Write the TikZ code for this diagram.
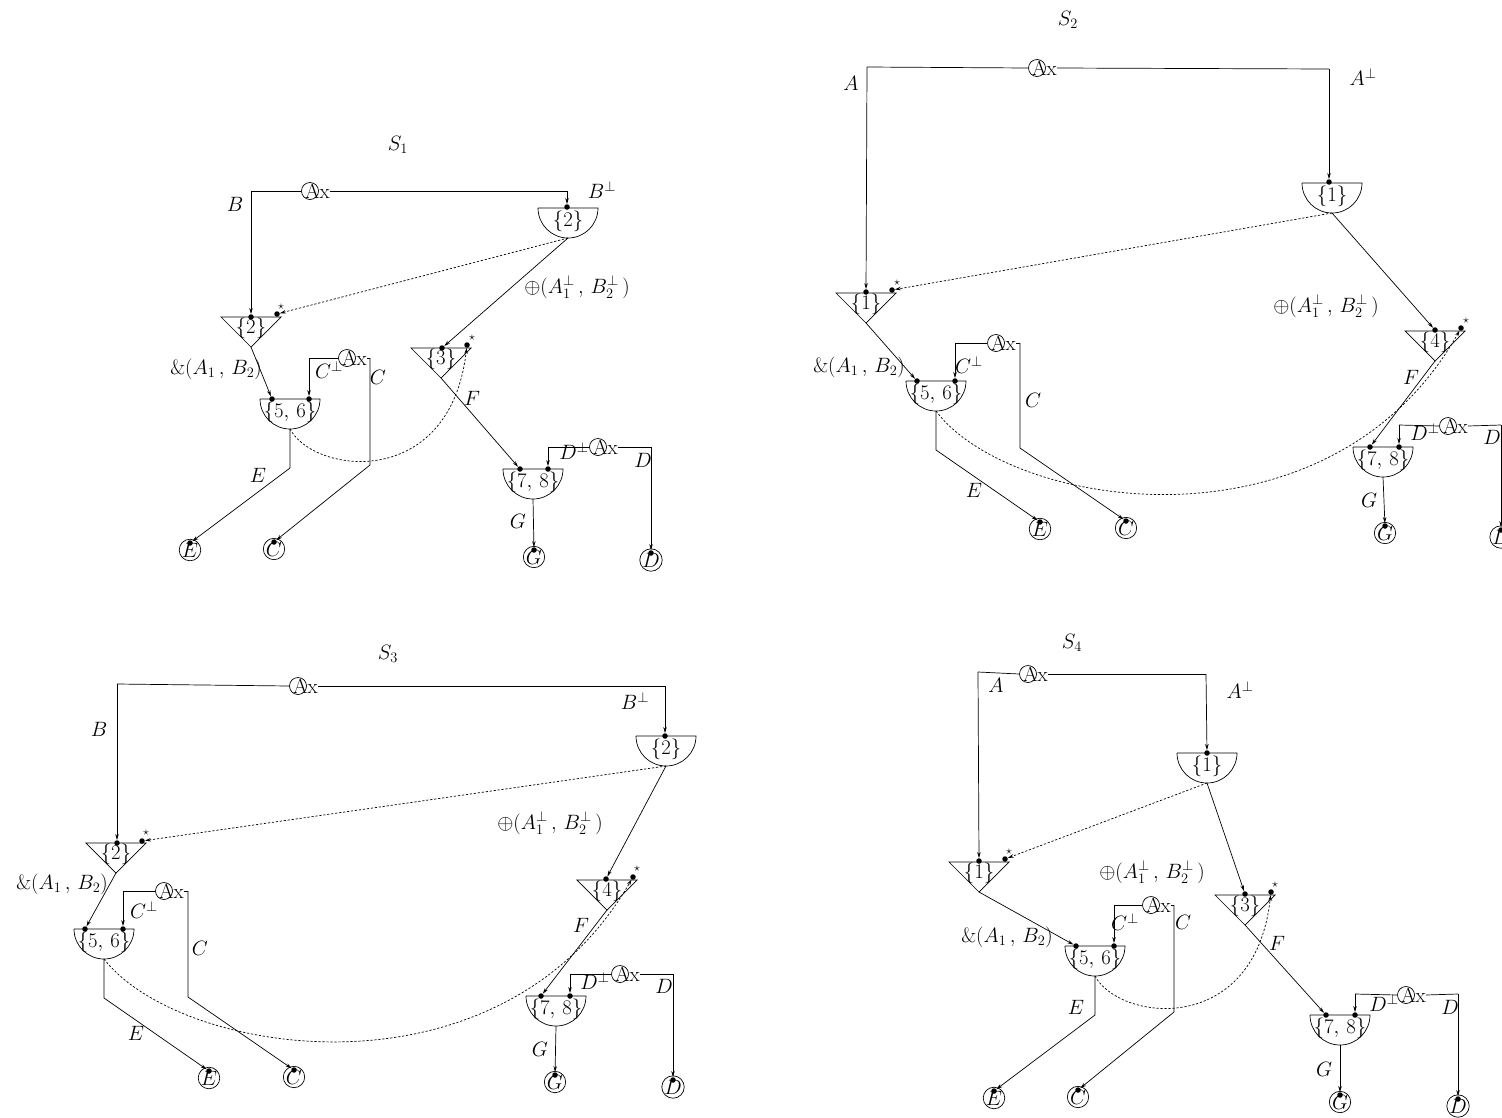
\documentclass[tikz,border=0pt]{standalone}
\usetikzlibrary{arrows.meta}
\tikzset{
  every node/.style={font=\huge},
  ln/.style={line width=0.7pt},
  arr/.style={ln,-{Stealth[length=6pt,width=3.5pt]}},
  dotl/.style={arr,dash pattern=on 2.2pt off 1.8pt},
  dot/.style={circle,fill,inner sep=0pt,minimum size=5.5pt},
  axc/.style={circle,draw,line width=0.7pt,inner sep=0pt,minimum size=17pt},
  axt/.style={inner sep=0pt,anchor=west},
  cnc/.style={circle,draw,line width=0.7pt,inner sep=0pt,minimum size=17pt},
  lbl/.style={inner sep=0pt},
  strs/.style={inner sep=0pt,font=\large},
}
\newcommand\SemiG[4]{%
  \draw[ln] (#2-30,#3) -- (#2+30,#3) arc[start angle=0,end angle=-180,radius=30pt];
  \node[lbl] (#1) at (#2,#3+13) {$\{#4\}$};
  \coordinate (#1b) at (#2,#3+30);
}
\newcommand\TriG[4]{%
  \draw[ln] (#2-30,#3) -- (#2+30,#3) -- (#2,#3+30) -- cycle;
  \node[lbl] (#1) at (#2,#3+11) {$\{#4\}$};
  \coordinate (#1a) at (#2,#3+30);
}
\newcommand\AxG[3]{%
  \node[axc] (#1) at (#2,#3) {};
  \node[axt] (#1t) at (#2-5,#3) {Ax};
}
\newcommand\ConcG[4]{%
  \node[cnc] (#1) at (#2,#3) {$#4$};
  \node[dot] (#1d) at (#2,#3-7) {};
}
\newcommand\PlusL{$\oplus(A_1^{\perp}\,,\,B_2^{\perp}\,)$}
\newcommand\AmpL{$\&(A_1\,,\,B_2)$}
\begin{document}
\begin{tikzpicture}[x=1pt,y=-1pt]
\useasboundingbox (0,0) rectangle (1502,1117);

% ================= S1 =================
\node[lbl] (s1lab) at (398,145) {$S_1$};
\AxG{s1ax}{310}{191}
\coordinate (s1cl) at (251,191);
\coordinate (s1cr) at (567,191);
\draw[ln] (s1ax.west) -- (s1cl);
\draw[ln] (s1axt.east) -- (s1cr);
\node[lbl] (s1B) at (235,204) {$B$};
\node[lbl] (s1Bp) at (602,190) {$B^{\perp}$};
\SemiG{s1s2}{568}{208}{2}
\node[dot] (s1s2d) at (567,207) {};
\draw[arr] (s1cr) -- (s1s2d);
\TriG{s1t2}{251}{317}{2}
\node[dot] (s1t2d) at (251,317) {};
\node[dot] (s1t2s) at (277,314) {};
\node[strs] (s1t2st) at (281,307) {$\star$};
\draw[arr] (s1cl) -- (s1t2d);
\draw[dotl] (s1s2b) -- (s1t2s);
\TriG{s1t3}{441}{348}{3}
\node[dot] (s1t3d) at (442,348) {};
\node[dot] (s1t3s) at (467,345) {};
\node[strs] (s1t3st) at (472,338) {$\star$};
\draw[arr] (s1s2b) -- (s1t3d);
\node[lbl] (s1plus) at (577,287) {\PlusL};
\SemiG{s1s56}{290}{399}{5,\,6}
\node[dot] (s1s56d1) at (272,399) {};
\node[dot] (s1s56d2) at (309,399) {};
\draw[arr] (s1t2a) -- (s1s56d1);
\node[lbl] (s1amp) at (216,369) {\AmpL};
\AxG{s1axc}{347}{358}
\coordinate (s1ccl) at (309,358);
\coordinate (s1ccr) at (370,358);
\draw[ln] (s1axc.west) -- (s1ccl);
\draw[arr] (s1ccl) -- (s1s56d2);
\draw[ln] (s1axct.east) -- (s1ccr);
\coordinate (s1cbend) at (370,465);
\ConcG{s1C}{274}{549}{C}
\draw[arr] (s1ccr) -- (s1cbend) -- (s1Cd);
\node[lbl] (s1Cp) at (329,370) {$C^{\perp}$};
\node[lbl] (s1Cl) at (378,377) {$C$};
\coordinate (s1ebend) at (290,468);
\ConcG{s1E}{190}{550}{E}
\draw[arr] (s1s56b) -- (s1ebend) -- (s1Ed);
\node[lbl] (s1El) at (258,475) {$E$};
\draw[dotl] (s1s56b) .. controls (315,475) and (450,490) .. (s1t3s);
\SemiG{s1s78}{533}{469}{7,\,8}
\node[dot] (s1s78d1) at (520,469) {};
\node[dot] (s1s78d2) at (548,469) {};
\draw[arr] (s1t3a) -- (s1s78d1);
\node[lbl] (s1F) at (472,398) {$F$};
\AxG{s1axd}{598}{447}
\coordinate (s1dcl) at (548,447);
\coordinate (s1dcr) at (651,447);
\draw[ln] (s1axd.west) -- (s1dcl);
\draw[arr] (s1dcl) -- (s1s78d2);
\draw[ln] (s1axdt.east) -- (s1dcr);
\ConcG{s1D}{651}{560}{D}
\draw[arr] (s1dcr) -- (s1Dd);
\node[lbl] (s1Dp) at (574,451) {$D^{\perp}$};
\node[lbl] (s1Dl) at (643,460) {$D$};
\ConcG{s1G}{534}{557}{G}
\draw[arr] (s1s78b) -- (s1Gd);
\node[lbl] (s1Gl) at (518,521) {$G$};

% ================= S2 =================
\node[lbl] (s2lab) at (1068,20) {$S_2$};
\AxG{s2ax}{1037}{68}
\coordinate (s2cl) at (867,67);
\coordinate (s2cr) at (1329,69);
\draw[ln] (s2ax.west) -- (s2cl);
\draw[ln] (s2axt.east) -- (s2cr);
\node[lbl] (s2A) at (851,83) {$A$};
\node[lbl] (s2Ap) at (1363,77) {$A^{\perp}$};
\SemiG{s2s1}{1332}{183}{1}
\node[dot] (s2s1d) at (1329,182) {};
\draw[arr] (s2cr) -- (s2s1d);
\TriG{s2t1}{866}{293}{1}
\node[dot] (s2t1d) at (866,292) {};
\node[dot] (s2t1s) at (892,290) {};
\node[strs] (s2t1st) at (897,283) {$\star$};
\draw[arr] (s2cl) -- (s2t1d);
\draw[dotl] (s2s1b) -- (s2t1s);
\TriG{s2t4}{1435}{331}{4}
\node[dot] (s2t4d) at (1435,330) {};
\node[dot] (s2t4s) at (1461,328) {};
\node[strs] (s2t4st) at (1466,321) {$\star$};
\draw[arr] (s2s1b) -- (s2t4d);
\node[lbl] (s2plus) at (1326,306) {\PlusL};
\SemiG{s2s56}{936}{381}{5,\,6}
\node[dot] (s2s56d1) at (917,381) {};
\node[dot] (s2s56d2) at (955,381) {};
\draw[arr] (s2t1a) -- (s2s56d1);
\node[lbl] (s2amp) at (859,367) {\AmpL};
\AxG{s2axc}{996}{343}
\coordinate (s2ccl) at (955,343);
\coordinate (s2ccr) at (1020,343);
\draw[ln] (s2axc.west) -- (s2ccl);
\draw[arr] (s2ccl) -- (s2s56d2);
\draw[ln] (s2axct.east) -- (s2ccr);
\coordinate (s2cbend) at (1020,448);
\ConcG{s2C}{1126}{528}{C}
\draw[arr] (s2ccr) -- (s2cbend) -- (s2Cd);
\node[lbl] (s2Cp) at (969,365) {$C^{\perp}$};
\node[lbl] (s2Cl) at (1033,400) {$C$};
\coordinate (s2ebend) at (936,450);
\ConcG{s2E}{1040}{529}{E}
\draw[arr] (s2s56b) -- (s2ebend) -- (s2Ed);
\node[lbl] (s2El) at (974,490) {$E$};
\draw[dotl] (s2s56b) .. controls (1010,510) and (1330,560) .. (s2t4s);
\SemiG{s2s78}{1383}{447}{7,\,8}
\node[dot] (s2s78d1) at (1370,447) {};
\node[dot] (s2s78d2) at (1399,447) {};
\draw[arr] (s2t4a) -- (s2s78d1);
\node[lbl] (s2F) at (1411,377) {$F$};
\AxG{s2axd}{1448}{426}
\coordinate (s2dcl) at (1399,425);
\coordinate (s2dcr) at (1501,425);
\draw[ln] (s2axd.west) -- (s2dcl);
\draw[arr] (s2dcl) -- (s2s78d2);
\draw[ln] (s2axdt.east) -- (s2dcr);
\ConcG{s2D}{1501}{537}{D}
\draw[arr] (s2dcr) -- (s2Dd);
\node[lbl] (s2Dp) at (1425,432) {$D^{\perp}$};
\node[lbl] (s2Dl) at (1492,437) {$D$};
\ConcG{s2G}{1385}{533}{G}
\draw[arr] (s2s78b) -- (s2Gd);
\node[lbl] (s2Gl) at (1369,500) {$G$};

% ================= S3 =================
\node[lbl] (s3lab) at (388,654) {$S_3$};
\AxG{s3ax}{298}{686}
\coordinate (s3cl) at (117,684);
\coordinate (s3cr) at (665,686);
\draw[ln] (s3ax.west) -- (s3cl);
\draw[ln] (s3axt.east) -- (s3cr);
\node[lbl] (s3B) at (99,729) {$B$};
\node[lbl] (s3Bp) at (635,701) {$B^{\perp}$};
\SemiG{s3s2}{666}{736}{2}
\node[dot] (s3s2d) at (665,736) {};
\draw[arr] (s3cr) -- (s3s2d);
\TriG{s3t2}{116}{843}{2}
\node[dot] (s3t2d) at (117,843) {};
\node[dot] (s3t2s) at (142,841) {};
\node[strs] (s3t2st) at (146,833) {$\star$};
\draw[arr] (s3cl) -- (s3t2d);
\draw[dotl] (s3s2b) -- (s3t2s);
\TriG{s3t4}{607}{880}{4}
\node[dot] (s3t4d) at (606,879) {};
\node[dot] (s3t4s) at (633,877) {};
\node[strs] (s3t4st) at (637,869) {$\star$};
\draw[arr] (s3s2b) -- (s3t4d);
\node[lbl] (s3plus) at (550,823) {\PlusL};
\SemiG{s3s56}{104}{929}{5,\,6}
\node[dot] (s3s56d1) at (85,929) {};
\node[dot] (s3s56d2) at (123,929) {};
\draw[arr] (s3t2a) -- (s3s56d1);
\node[lbl] (s3amp) at (62,884) {\AmpL};
\AxG{s3axc}{164}{891}
\coordinate (s3ccl) at (123,891);
\coordinate (s3ccr) at (188,891);
\draw[ln] (s3axc.west) -- (s3ccl);
\draw[arr] (s3ccl) -- (s3s56d2);
\draw[ln] (s3axct.east) -- (s3ccr);
\coordinate (s3cbend) at (188,997);
\ConcG{s3C}{294}{1077}{C}
\draw[arr] (s3ccr) -- (s3cbend) -- (s3Cd);
\node[lbl] (s3Cp) at (144,910) {$C^{\perp}$};
\node[lbl] (s3Cl) at (200,948) {$C$};
\coordinate (s3ebend) at (104,998);
\ConcG{s3E}{209}{1078}{E}
\draw[arr] (s3s56b) -- (s3ebend) -- (s3Ed);
\node[lbl] (s3El) at (136,1033) {$E$};
\draw[dotl] (s3s56b) .. controls (180,1057) and (500,1107) .. (s3t4s);
\SemiG{s3s78}{556}{996}{7,\,8}
\node[dot] (s3s78d1) at (541,996) {};
\node[dot] (s3s78d2) at (570,996) {};
\draw[arr] (s3t4a) -- (s3s78d1);
\node[lbl] (s3F) at (581,925) {$F$};
\AxG{s3axd}{620}{974}
\coordinate (s3dcl) at (570,974);
\coordinate (s3dcr) at (673,974);
\draw[ln] (s3axd.west) -- (s3dcl);
\draw[arr] (s3dcl) -- (s3s78d2);
\draw[ln] (s3axdt.east) -- (s3dcr);
\ConcG{s3D}{673}{1087}{D}
\draw[arr] (s3dcr) -- (s3Dd);
\node[lbl] (s3Dp) at (595,981) {$D^{\perp}$};
\node[lbl] (s3Dl) at (664,986) {$D$};
\ConcG{s3G}{555}{1082}{G}
\draw[arr] (s3s78b) -- (s3Gd);
\node[lbl] (s3Gl) at (540,1049) {$G$};

% ================= S4 =================
\node[lbl] (s4lab) at (1072,643) {$S_4$};
\AxG{s4ax}{1028}{674}
\coordinate (s4cl) at (978,672);
\coordinate (s4cr) at (1206,674);
\draw[ln] (s4ax.west) -- (s4cl);
\draw[ln] (s4axt.east) -- (s4cr);
\node[lbl] (s4A) at (996,685) {$A$};
\node[lbl] (s4Ap) at (1240,690) {$A^{\perp}$};
\SemiG{s4s1}{1207}{753}{1}
\node[dot] (s4s1d) at (1207,753) {};
\draw[arr] (s4cr) -- (s4s1d);
\TriG{s4t1}{979}{862}{1}
\node[dot] (s4t1d) at (979,861) {};
\node[dot] (s4t1s) at (1005,859) {};
\node[strs] (s4t1st) at (1009,852) {$\star$};
\draw[arr] (s4cl) -- (s4t1d);
\draw[dotl] (s4s1b) -- (s4t1s);
\TriG{s4t3}{1245}{895}{3}
\node[dot] (s4t3d) at (1245,894) {};
\node[dot] (s4t3s) at (1271,892) {};
\node[strs] (s4t3st) at (1275,885) {$\star$};
\draw[arr] (s4s1b) -- (s4t3d);
\node[lbl] (s4plus) at (1152,872) {\PlusL};
\SemiG{s4s56}{1095}{946}{5,\,6}
\node[dot] (s4s56d1) at (1076,946) {};
\node[dot] (s4s56d2) at (1114,946) {};
\draw[arr] (s4t1a) -- (s4s56d1);
\node[lbl] (s4amp) at (1007,937) {\AmpL};
\AxG{s4axc}{1151}{905}
\coordinate (s4ccl) at (1114,905);
\coordinate (s4ccr) at (1174,905);
\draw[ln] (s4axc.west) -- (s4ccl);
\draw[arr] (s4ccl) -- (s4s56d2);
\draw[ln] (s4axct.east) -- (s4ccr);
\coordinate (s4cbend) at (1174,1012);
\ConcG{s4C}{1078}{1097}{C}
\draw[arr] (s4ccr) -- (s4cbend) -- (s4Cd);
\node[lbl] (s4Cp) at (1125,922) {$C^{\perp}$};
\node[lbl] (s4Cl) at (1183,922) {$C$};
\coordinate (s4ebend) at (1095,1015);
\ConcG{s4E}{994}{1098}{E}
\draw[arr] (s4s56b) -- (s4ebend) -- (s4Ed);
\node[lbl] (s4El) at (1076,1007) {$E$};
\draw[dotl] (s4s56b) .. controls (1120,1022) and (1255,1037) .. (s4t3s);
\SemiG{s4s78}{1340}{1015}{7,\,8}
\node[dot] (s4s78d1) at (1326,1015) {};
\node[dot] (s4s78d2) at (1355,1015) {};
\draw[arr] (s4t3a) -- (s4s78d1);
\node[lbl] (s4F) at (1277,943) {$F$};
\AxG{s4axd}{1406}{995}
\coordinate (s4dcl) at (1355,994);
\coordinate (s4dcr) at (1458,994);
\draw[ln] (s4axd.west) -- (s4dcl);
\draw[arr] (s4dcl) -- (s4s78d2);
\draw[ln] (s4axdt.east) -- (s4dcr);
\ConcG{s4D}{1458}{1106}{D}
\draw[arr] (s4dcr) -- (s4Dd);
\node[lbl] (s4Dp) at (1384,1003) {$D^{\perp}$};
\node[lbl] (s4Dl) at (1450,1007) {$D$};
\ConcG{s4G}{1340}{1102}{G}
\draw[arr] (s4s78b) -- (s4Gd);
\node[lbl] (s4Gl) at (1324,1069) {$G$};
\end{tikzpicture}
\end{document}
